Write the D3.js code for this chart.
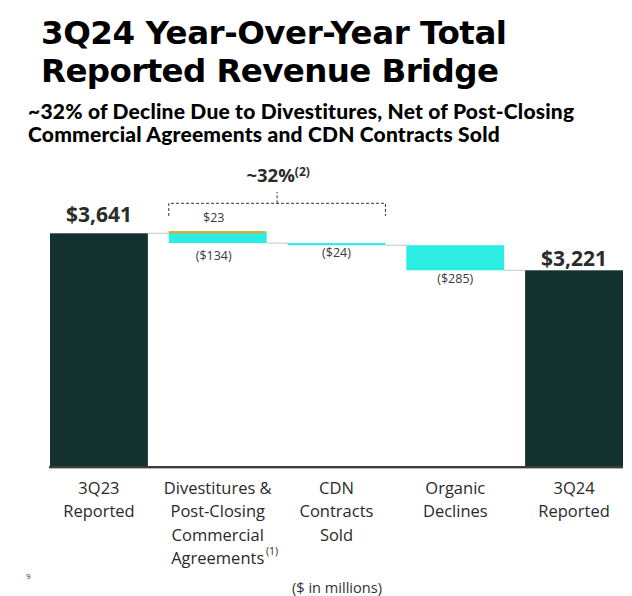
<!DOCTYPE html>
<html><head><meta charset="utf-8">
<script src="https://cdn.jsdelivr.net/npm/d3@7"></script>
<style>body{margin:0;background:#fff}</style>
</head><body>
<svg id="c" width="632" height="596"></svg>
<script>
const categories = ["3Q23 Reported","Divestitures & Post-Closing Commercial Agreements","CDN Contracts Sold","Organic Declines","3Q24 Reported"];
const categoryLines = [["3Q23","Reported"],["Divestitures &","Post-Closing","Commercial","Agreements"],["CDN","Contracts","Sold"],["Organic","Declines"],["3Q24","Reported"]];
const startValue = 3641;
const endValue = 3221;
const offsetValue = 23;      // post-closing commercial agreements (orange)
const deltas = [-134, -24, -285]; // divestitures, CDN, organic
const valueLabels = ["$3,641","($134)","($24)","($285)","$3,221"];
const titleLines = ["3Q24 Year-Over-Year Total", "Reported Revenue Bridge"];
const subtitleLines = ["~32% of Decline Due to Divestitures, Net of Post-Closing", "Commercial Agreements and CDN Contracts Sold"];
const yDomain = [1000, 3641];

const svg = d3.select("#c");
const x = d3.scaleBand().domain(categories).range([50, 623]).paddingInner(0.176).paddingOuter(0);
const y = d3.scaleLinear().domain(yDomain).range([466, 233.3]);
const bw = x.bandwidth();
const dark = "#12312f", cyan = "#2cede3", orange = "#f5a21b", grey = "#d0d0d0";

const d1Top = startValue + offsetValue;
const d1Bot = d1Top + deltas[0];
const d2Bot = d1Bot + deltas[1];
const d3Bot = d2Bot + deltas[2];

const conn = [[0, 1, startValue], [1, 2, d1Bot], [2, 3, d2Bot], [3, 4, d3Bot]];
svg.selectAll("line.conn").data(conn).join("line")
  .attr("x1", d => x(categories[d[0]]) + bw).attr("x2", d => x(categories[d[1]]))
  .attr("y1", d => y(d[2])).attr("y2", d => y(d[2]))
  .attr("stroke", grey).attr("stroke-width", 1.2);

svg.append("rect").attr("x", x(categories[0])).attr("width", bw)
  .attr("y", y(startValue)).attr("height", y(yDomain[0]) - y(startValue)).attr("fill", dark);
svg.append("rect").attr("x", x(categories[4])).attr("width", bw)
  .attr("y", y(endValue)).attr("height", y(yDomain[0]) - y(endValue)).attr("fill", dark);

const deltaBars = [
  {c: categories[1], top: d1Top, bot: d1Bot},
  {c: categories[2], top: d1Bot, bot: d2Bot},
  {c: categories[3], top: d2Bot, bot: d3Bot}
];
svg.selectAll("rect.delta").data(deltaBars).join("rect")
  .attr("x", d => x(d.c)).attr("width", bw)
  .attr("y", d => y(d.top)).attr("height", d => y(d.bot) - y(d.top)).attr("fill", cyan);
svg.append("rect").attr("x", x(categories[1])).attr("width", bw - 2)
  .attr("y", y(d1Top)).attr("height", y(startValue) - y(d1Top)).attr("fill", orange);

svg.append("line").attr("x1", 49).attr("x2", 623).attr("y1", y(yDomain[0]) + 2.2).attr("y2", y(yDomain[0]) + 2.2)
  .attr("stroke", "#b5b5b5").attr("stroke-width", 1.5);
svg.append("line").attr("x1", 49).attr("x2", 623).attr("y1", y(yDomain[0]) + 1).attr("y2", y(yDomain[0]) + 1)
  .attr("stroke", "#3c3c3c").attr("stroke-width", 2);

const cx = c => x(c) + bw / 2;
function st(sel, o) { for (const k in o) sel.attr(k, o[k]); return sel; }

const big = {"text-anchor": "middle", "font-family": "Open Sans", "font-weight": "bold", "font-size": 21, "fill": "#2b2b2b"};
st(svg.append("text"), big).attr("x", cx(categories[0])).attr("y", y(startValue) - 11.5).text(valueLabels[0]);
st(svg.append("text"), big).attr("x", cx(categories[4])).attr("y", y(endValue) - 4.5).text(valueLabels[4]);

const small = {"font-family": "Open Sans", "font-size": 12.5, "fill": "#3a3a3a", "text-anchor": "middle"};
st(svg.append("text"), small).attr("x", cx(categories[1]) - 4).attr("y", y(d1Bot) + 16.5).text(valueLabels[1]);
st(svg.append("text"), small).attr("x", cx(categories[2])).attr("y", y(d2Bot) + 12).text(valueLabels[2]);
st(svg.append("text"), small).attr("x", cx(categories[3])).attr("y", y(d3Bot) + 13).text(valueLabels[3]);
st(svg.append("text"), small).attr("x", cx(categories[1]) - 4).attr("y", 222).text("$" + offsetValue);

const bl = x(categories[1]), br = x(categories[2]) + bw, bm = (bl + br) / 2;
svg.append("path").attr("d", `M${bl},216 V203.3 H${br} V216 M${bm},203.3 V192`)
  .attr("fill", "none").attr("stroke", "#333").attr("stroke-width", 1).attr("stroke-dasharray", "3,2");
const pct = svg.append("text").attr("x", bm + 1).attr("y", 182).attr("text-anchor", "middle")
  .attr("font-family", "Open Sans").attr("font-weight", "bold").attr("font-size", 18.5).attr("fill", "#2b2b2b");
pct.append("tspan").text("~32%");
pct.append("tspan").attr("font-size", 12).attr("dy", -6).text("(2)");

categoryLines.forEach((lines, i) => {
  const t = svg.append("text").attr("text-anchor", "middle")
    .attr("font-family", "Open Sans").attr("font-size", 16.5).attr("fill", "#2a2a2a");
  lines.forEach((ln, j) => {
    t.append("tspan").attr("x", cx(categories[i])).attr("y", 494 + j * 23.3).text(ln);
  });
});
svg.append("text").attr("x", 266).attr("y", 555).attr("font-family", "Open Sans")
  .attr("font-size", 10.5).attr("fill", "#2a2a2a").text("(1)");

svg.append("text").attr("x", 337).attr("y", 593).attr("text-anchor", "middle")
  .attr("font-family", "Open Sans").attr("font-size", 14.6).attr("fill", "#333").text("($ in millions)");
svg.append("text").attr("x", 26).attr("y", 579).attr("font-family", "Open Sans")
  .attr("font-size", 8).attr("fill", "#333").text("9");

// title: fit letter-spacing to the reference line widths
const titleWidths = [466, 458];
titleLines.forEach((ln, j) => {
  const t = svg.append("text").attr("x", 41).attr("y", 44 + j * 38.2)
    .attr("font-family", "DejaVu Sans").attr("font-weight", "bold").attr("font-size", 32.5).attr("fill", "#000").text(ln);
  const len = t.node().getComputedTextLength();
  t.attr("letter-spacing", (titleWidths[j] - len) / (ln.length - 1));
});
const tf = {"font-family": "Lato", "font-weight": "900", "fill": "#000"};
const sub = st(svg.append("text"), tf).attr("font-size", 21).attr("letter-spacing", 0.2);
subtitleLines.forEach((ln, j) => sub.append("tspan").attr("x", 28).attr("y", 118.5 + j * 23.5).text(ln));
</script>
</body></html>
